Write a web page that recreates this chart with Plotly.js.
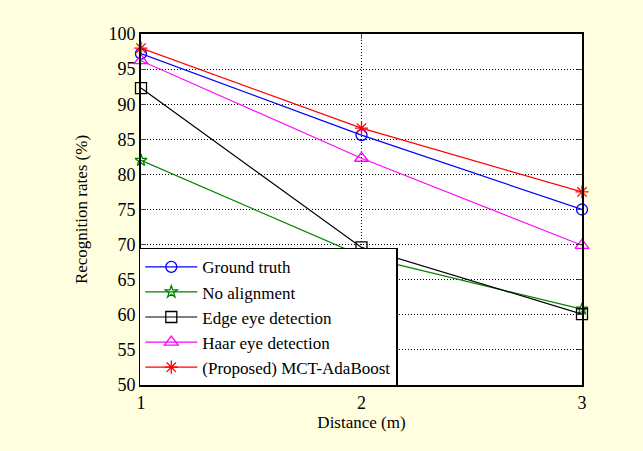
<!DOCTYPE html>
<html>
<head>
<meta charset="utf-8">
<script src="https://cdn.plot.ly/plotly-3.0.1.min.js"></script>
<style>html,body{margin:0;padding:0;background:#FFFFE0;}#chart{width:643px;height:451px;}</style>
</head>
<body>
<div id="chart"></div>
<script>
const distances = [1, 2, 3];
const seriesNames = ["Ground truth", "No alignment", "Edge eye detection", "Haar eye detection", "(Proposed) MCT-AdaBoost"];
const groundTruth = [97.2, 85.6, 75.0];
const noAlignment = [82.0, 68.4, 60.8];
const edgeEye = [92.3, 69.6, 60.1];
const haarEye = [96.2, 82.3, 69.9];
const proposed = [98.0, 86.6, 77.5];
const yTicks = [50, 55, 60, 65, 70, 75, 80, 85, 90, 95, 100];

const colors = ["#0000FF", "#008000", "#000000", "#FF00FF", "#FF0000"];
const symbols = ["circle-open", "star-open", "square-open", "triangle-up-open", "asterisk-open"];
const sizes = [11, 9, 11, 12, 11];
const allData = [groundTruth, noAlignment, edgeEye, haarEye, proposed];

const traces = allData.map((vals, i) => ({
  x: distances, y: vals, name: seriesNames[i], type: "scatter", mode: "lines+markers",
  line: {color: colors[i], width: 1.2},
  marker: {symbol: symbols[i], size: sizes[i], color: colors[i], line: {color: colors[i], width: 1.3}},
  cliponaxis: false
}));

const fam = "Liberation Serif";
const layout = {
  width: 643, height: 451,
  paper_bgcolor: "#FFFFE0", plot_bgcolor: "#FFFFFF",
  margin: {l: 141, r: 61, t: 34, b: 66},
  font: {family: fam, size: 17, color: "#000"},
  showlegend: true,
  legend: {x: -0.005, y: -0.005, xanchor: "left", yanchor: "bottom", bgcolor: "#FFFFFF",
    bordercolor: "#000", borderwidth: 1.5, font: {family: fam, size: 17, color: "#000"},
    tracegroupgap: 0, itemwidth: 52},
  xaxis: {range: [1, 3], tickvals: distances, ticktext: distances.map(String), ticks: "inside", ticklen: 5,
    showline: true, linecolor: "#000", linewidth: 2, mirror: "ticks", showgrid: true,
    gridcolor: "#000", griddash: "1px,2px", gridwidth: 1, zeroline: false,
    tickfont: {family: fam, size: 18, color: "#000"},
    title: {text: "Distance (m)", font: {family: fam, size: 17, color: "#000"}, standoff: 4}},
  yaxis: {range: [50, 100], tickvals: yTicks, ticks: "inside", ticklen: 5,
    showline: true, linecolor: "#000", linewidth: 2, mirror: "ticks", showgrid: true,
    gridcolor: "#000", griddash: "1px,2px", gridwidth: 1, zeroline: false,
    tickfont: {family: fam, size: 18, color: "#000"},
    title: {text: "Recognition rates (%)", font: {family: fam, size: 17, color: "#000"}, standoff: 16}}
};
Plotly.newPlot("chart", traces, layout, {displayModeBar: false});
</script>
</body>
</html>
